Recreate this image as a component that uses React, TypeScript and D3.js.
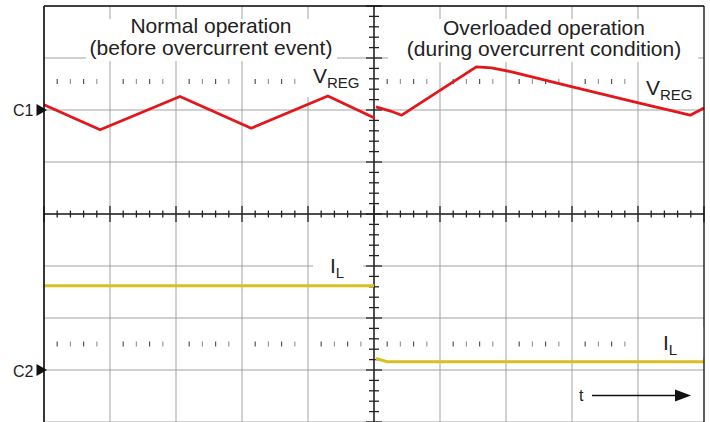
import React from 'react';
import * as d3 from 'd3';

const W = 710;
const H = 422;

// grid divisions (oscilloscope screen: 10 x 8 divisions)
const xDivisions = [0, 1, 2, 3, 4, 5, 6, 7, 8, 9, 10];
const yDivisions = [-4, -3, -2, -1, 0, 1, 2, 3, 4];

// channel 1: V_REG (in divisions)
const vregNormalT = [0, 0.85, 2.06, 3.14, 4.3, 5.0];
const vregNormalV = [2.1, 1.62, 2.26, 1.65, 2.27, 1.85];
const vregOverT = [5.03, 5.25, 5.42, 6.55, 6.78, 7.1, 7.99, 8.99, 9.79, 10];
const vregOverV = [2.06, 1.98, 1.9, 2.83, 2.81, 2.73, 2.45, 2.14, 1.9, 2.04];

// channel 2: I_L (in divisions)
const ilNormalT = [0, 5.0];
const ilNormalV = [-1.38, -1.38];
const ilOverT = [5.03, 5.2, 10];
const ilOverV = [-2.78, -2.84, -2.84];

// labels
const titleLeft = ['Normal operation', '(before overcurrent event)'];
const titleRight = ['Overloaded operation', '(during overcurrent condition)'];

const RED = '#e3161c';
const YELLOW = '#d8bf22';
const GRID = '#a3a3a3';

export default function App() {
  const x = d3.scaleLinear().domain([0, 10]).range([44, 704]);
  const y = d3.scaleLinear().domain([-4, 4]).range([422, 6]);

  const line = d3
    .line<[number, number]>()
    .x((d) => x(d[0]))
    .y((d) => y(d[1]));

  const zip = (t: number[], v: number[]) => t.map((tt, i) => [tt, v[i]] as [number, number]);

  const fifths = d3.range(0, 10.0001, 0.2).map((v) => Math.round(v * 10) / 10);
  const yFifths = d3.range(-4, 4.0001, 0.2).map((v) => Math.round(v * 10) / 10);
  const minorX = fifths.filter((v) => Math.abs(v - Math.round(v)) > 0.01);

  const dotRows = [2.55, -2.5];

  const boxes = [
    { x: 86, y: 19, w: 251, h: 42 },
    { x: 388, y: 19, w: 310, h: 43 },
    { x: 307, y: 61, w: 55, h: 36 },
    { x: 639, y: 66, w: 62, h: 36 },
    { x: 313, y: 252, w: 50, h: 29 },
    { x: 640, y: 327, w: 64, h: 30 },
  ];

  return (
    <svg
      width={W}
      height={H}
      style={{ position: 'absolute', left: 0, top: 0, background: '#fff' }}
      fontFamily="'Liberation Sans', Arial, sans-serif"
    >
      <rect x={0} y={0} width={W} height={H} fill="#fff" />
      {/* grid */}
      {xDivisions.map((d) => (
        <line key={'gx' + d} x1={x(d)} x2={x(d)} y1={y(4)} y2={y(-4)} stroke={GRID} strokeWidth={1} />
      ))}
      {yDivisions.map((d) => (
        <line key={'gy' + d} x1={x(0)} x2={x(10)} y1={y(d)} y2={y(d)} stroke={GRID} strokeWidth={1} />
      ))}
      {/* dotted marker rows */}
      {dotRows.map((r) =>
        minorX.map((v, i) => (
          <line
            key={'dr' + r + '_' + v}
            x1={x(v)}
            x2={x(v)}
            y1={y(r) - 2.5}
            y2={y(r) + 2.5}
            stroke={i % 2 === 0 ? '#555' : '#999'}
            strokeWidth={1.2}
          />
        ))
      )}
      {/* center axes */}
      <line x1={x(0)} x2={x(10)} y1={y(0)} y2={y(0)} stroke="#222" strokeWidth={1.5} />
      <line x1={x(5)} x2={x(5)} y1={y(4)} y2={y(-4)} stroke="#222" strokeWidth={1.5} />
      {fifths.map((v) => {
        const major = Math.abs(v - Math.round(v)) < 0.01;
        const len = major ? 8 : 3.5;
        return (
          <line key={'tx' + v} x1={x(v)} x2={x(v)} y1={y(0) - len} y2={y(0) + len} stroke="#222" strokeWidth={1.3} />
        );
      })}
      {yFifths.map((v) => {
        const major = Math.abs(v - Math.round(v)) < 0.01;
        const len = major ? 8 : 5;
        return (
          <line key={'ty' + v} x1={x(5) - len} x2={x(5) + len} y1={y(v)} y2={y(v)} stroke="#222" strokeWidth={1.3} />
        );
      })}
      {/* label backgrounds */}
      {boxes.map((b, i) => (
        <rect key={'b' + i} x={b.x} y={b.y} width={b.w} height={b.h} fill="#fff" />
      ))}
      {/* traces */}
      <path d={line(zip(ilNormalT, ilNormalV)) || ''} fill="none" stroke={YELLOW} strokeWidth={3} />
      <path d={line(zip(ilOverT, ilOverV)) || ''} fill="none" stroke={YELLOW} strokeWidth={3} />
      <path d={line(zip(vregNormalT, vregNormalV)) || ''} fill="none" stroke={RED} strokeWidth={2.8} strokeLinejoin="round" />
      <path d={line(zip(vregOverT, vregOverV)) || ''} fill="none" stroke={RED} strokeWidth={2.8} strokeLinejoin="round" />
      {/* border */}
      <line x1={x(0)} x2={x(0)} y1={y(4)} y2={H} stroke="#111" strokeWidth={1.6} />
      <line x1={x(0)} x2={x(10)} y1={y(4)} y2={y(4)} stroke="#111" strokeWidth={1.6} />
      <line x1={x(10)} x2={x(10)} y1={y(4)} y2={H} stroke="#111" strokeWidth={1.2} />
      {/* titles */}
      <text x={211} y={33} fontSize={21} textAnchor="middle" fill="#222">{titleLeft[0]}</text>
      <text x={211} y={55} fontSize={21} textAnchor="middle" fill="#222">{titleLeft[1]}</text>
      <text x={544} y={35} fontSize={21} textAnchor="middle" fill="#222">{titleRight[0]}</text>
      <text x={544} y={56} fontSize={21} textAnchor="middle" fill="#222">{titleRight[1]}</text>
      {/* trace labels */}
      <text x={313} y={83} fontSize={21} fill="#222">
        V<tspan fontSize={15} dy={5}>REG</tspan>
      </text>
      <text x={646} y={95} fontSize={21} fill="#222">
        V<tspan fontSize={15} dy={5}>REG</tspan>
      </text>
      <text x={330} y={273} fontSize={21} fill="#222">
        I<tspan fontSize={15} dy={5}>L</tspan>
      </text>
      <text x={663} y={350} fontSize={21} fill="#222">
        I<tspan fontSize={15} dy={5}>L</tspan>
      </text>
      {/* channel markers */}
      <text x={13} y={116} fontSize={16} fill="#222">C1</text>
      <path d={`M${36.5},${y(2) - 6}L${47},${y(2)}L${36.5},${y(2) + 6}Z`} fill="#111" />
      <text x={13} y={377} fontSize={16} fill="#222">C2</text>
      <path d={`M${36.5},${y(-3) - 6}L${47},${y(-3)}L${36.5},${y(-3) + 6}Z`} fill="#111" />
      {/* time arrow */}
      <text x={579} y={401} fontSize={16} fill="#222">t</text>
      <line x1={592} x2={677} y1={395.5} y2={395.5} stroke="#111" strokeWidth={1.5} />
      <path d="M675,389.5L691,395.5L675,401.5Z" fill="#111" />
    </svg>
  );
}
